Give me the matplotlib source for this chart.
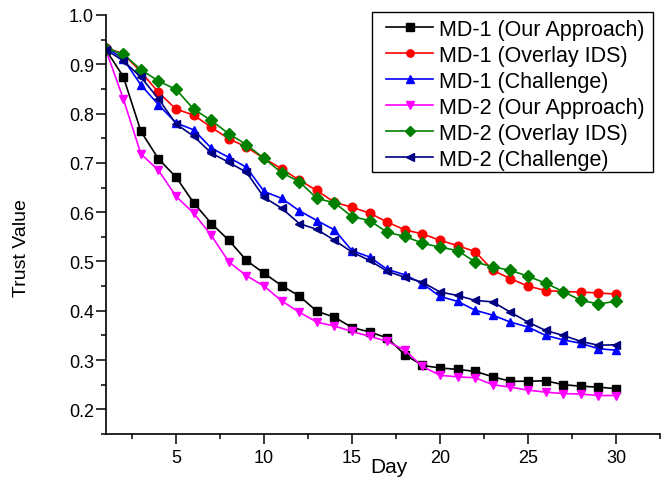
import numpy as np
import matplotlib.pyplot as plt
from matplotlib.ticker import MultipleLocator
from matplotlib.patches import Rectangle

plt.rcParams['font.family'] = ['Liberation Sans', 'DejaVu Sans']

days = np.arange(1, 31)

md1_ours = [0.930, 0.875, 0.764, 0.708, 0.671, 0.619, 0.577, 0.543, 0.502, 0.476,
            0.451, 0.430, 0.399, 0.387, 0.366, 0.357, 0.345, 0.311, 0.289, 0.284,
            0.281, 0.277, 0.266, 0.257, 0.257, 0.258, 0.250, 0.247, 0.245, 0.242]
md1_overlay = [0.934, 0.921, 0.885, 0.843, 0.809, 0.797, 0.772, 0.749, 0.732, 0.709,
               0.688, 0.665, 0.644, 0.620, 0.610, 0.598, 0.580, 0.564, 0.556, 0.543,
               0.532, 0.520, 0.482, 0.465, 0.450, 0.441, 0.439, 0.438, 0.436, 0.434]
md1_challenge = [0.935, 0.911, 0.858, 0.818, 0.781, 0.767, 0.730, 0.711, 0.691, 0.642,
                 0.628, 0.603, 0.583, 0.564, 0.522, 0.509, 0.484, 0.473, 0.455, 0.429,
                 0.419, 0.401, 0.391, 0.377, 0.367, 0.350, 0.341, 0.334, 0.323, 0.320]
md2_ours = [0.930, 0.830, 0.718, 0.685, 0.632, 0.598, 0.553, 0.499, 0.471, 0.450,
            0.420, 0.397, 0.377, 0.369, 0.358, 0.348, 0.338, 0.320, 0.287, 0.269,
            0.266, 0.264, 0.250, 0.245, 0.239, 0.235, 0.232, 0.231, 0.228, 0.228]
md2_overlay = [0.932, 0.921, 0.889, 0.866, 0.849, 0.809, 0.786, 0.759, 0.737, 0.709,
               0.680, 0.662, 0.628, 0.619, 0.591, 0.583, 0.559, 0.551, 0.537, 0.529,
               0.522, 0.499, 0.489, 0.482, 0.470, 0.456, 0.439, 0.421, 0.414, 0.419]
md2_challenge = [0.930, 0.907, 0.874, 0.830, 0.779, 0.754, 0.720, 0.701, 0.681, 0.630,
                 0.608, 0.577, 0.565, 0.543, 0.519, 0.502, 0.480, 0.468, 0.458, 0.438,
                 0.431, 0.421, 0.418, 0.397, 0.377, 0.360, 0.350, 0.338, 0.330, 0.331]

series = [
    (md1_ours, 'MD-1 (Our Approach)', 'black', 's'),
    (md1_overlay, 'MD-1 (Overlay IDS)', 'red', 'o'),
    (md1_challenge, 'MD-1 (Challenge)', 'blue', '^'),
    (md2_ours, 'MD-2 (Our Approach)', 'magenta', 'v'),
    (md2_overlay, 'MD-2 (Overlay IDS)', 'green', 'D'),
    (md2_challenge, 'MD-2 (Challenge)', 'navy', '<'),
]

W, H = 664, 481
fig = plt.figure(figsize=(W / 100, H / 100), dpi=100)
ax = fig.add_axes([105.7 / W, 1 - 435 / H, (660 - 105.7) / W, (435 - 16) / H])

for vals, label, color, marker in series:
    ms = 5.8 if marker == 'D' else 6.2
    ax.plot(days, vals, color=color, marker=marker, markersize=ms, linewidth=1.2, label=label)

ax.set_xlim(1, 32.5)
ax.set_ylim(0.15, 1.0)
ax.xaxis.set_minor_locator(MultipleLocator(2.5))
ax.yaxis.set_minor_locator(MultipleLocator(0.05))
ax.set_yticks(np.arange(0.2, 1.01, 0.1))
ax.set_yticklabels(['%.1f' % v for v in np.arange(0.2, 1.01, 0.1)])
ax.set_xticks([5, 10, 15, 20, 25, 30])

ax.spines['top'].set_visible(False)
ax.spines['right'].set_visible(False)
for s in ['left', 'bottom']:
    ax.spines[s].set_linewidth(1.2)
ax.tick_params(which='major', direction='out', length=7, width=1.1, labelsize=13)
ax.tick_params(which='minor', direction='out', length=3.8, width=1.1)
ax.tick_params(axis='y', which='major', pad=1.5)
ax.tick_params(axis='x', which='major', pad=4)

ax.set_xlabel('Day', fontsize=15)
ax.xaxis.set_label_coords(0.511, -0.056)
ax.set_ylabel('Trust Value', fontsize=14)
ax.yaxis.set_label_coords(-0.137, 0.446)

# legend entries without frame; the box is drawn as its own patch
leg = ax.legend(loc='upper left', bbox_to_anchor=(386 / W, 1 - 20 / H),
                bbox_transform=fig.transFigure, fontsize=15.5, handlelength=2.2,
                markerscale=0.85, frameon=False, borderpad=0,
                labelspacing=0.23, handletextpad=0.28, borderaxespad=0)
leg.set_zorder(6)
box = Rectangle((371.7 / W, 1 - 172.7 / H), (652.7 - 371.7) / W, (172.7 - 13.3) / H,
                transform=fig.transFigure, facecolor='white', edgecolor='black',
                linewidth=1.0, zorder=5, clip_on=False)
ax.add_artist(box)

plt.savefig('out.png', dpi=100)
